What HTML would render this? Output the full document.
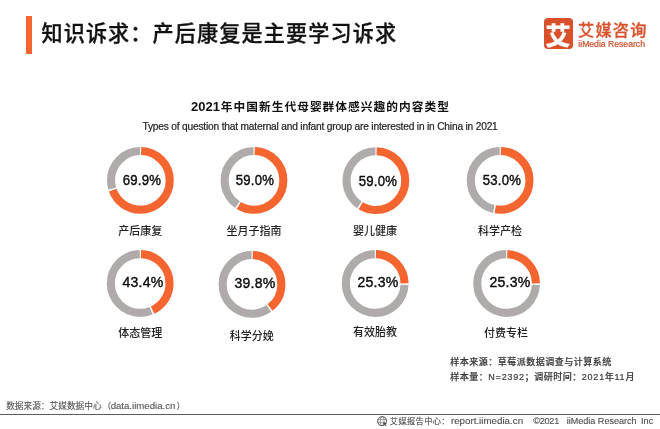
<!DOCTYPE html>
<html lang="zh-CN">
<head>
<meta charset="utf-8">
<title>知识诉求：产后康复是主要学习诉求</title>
<style>
html,body{margin:0;padding:0;background:#fff;}
body{width:660px;height:429px;position:relative;overflow:hidden;font-family:"Liberation Sans","Noto Sans CJK SC",sans-serif;color:#111;}
.bar{position:absolute;left:26px;top:16px;width:6px;height:37.5px;background:#F46530;}
.title{position:absolute;left:41.4px;top:17.8px;height:32px;line-height:32px;font-size:21.1px;letter-spacing:1.15px;font-weight:500;-webkit-text-stroke:0.3px #111;color:#111;white-space:nowrap;}
.logo-box{position:absolute;left:544px;top:18.4px;width:29.4px;height:30.4px;border-radius:4px;background:#D9502B;color:#fff;font-weight:900;font-size:25.5px;line-height:37.5px;text-align:center;text-indent:-1.6px;overflow:hidden;}
.logo-cn{position:absolute;left:578px;top:17.3px;font-size:16.2px;letter-spacing:1.2px;line-height:26px;font-weight:500;-webkit-text-stroke:0.3px #D9532E;color:#D9532E;white-space:nowrap;}
.logo-en{position:absolute;left:578.3px;top:37.5px;font-size:8.65px;line-height:12px;color:#CC4F2C;-webkit-text-stroke:0.2px #CC4F2C;white-space:nowrap;}
.h1{position:absolute;left:0;width:640px;top:98px;height:18px;line-height:18px;text-align:center;font-size:11.7px;letter-spacing:1.05px;text-indent:1px;font-weight:700;color:#111;white-space:nowrap;}
.yr{font-size:13px;letter-spacing:0;margin-right:0.8px;}
.h2{position:absolute;left:0;width:640px;top:118.8px;-webkit-text-stroke:0.2px #222;height:16px;line-height:16px;text-align:center;font-size:10.2px;letter-spacing:-0.19px;color:#222;white-space:nowrap;}
.chart{position:absolute;left:0;top:0;}
.pct{position:absolute;width:80px;height:20px;line-height:20px;text-align:center;font-size:14.3px;color:#0a0a0a;letter-spacing:0.25px;-webkit-text-stroke:0.4px #0a0a0a;transform:scaleX(0.92);white-space:nowrap;}
.p2{font-size:15.3px;letter-spacing:0.25px;margin-top:-1.2px;}
.lab{position:absolute;width:80px;height:16px;line-height:16px;text-align:center;font-size:11px;font-weight:500;color:#222;white-space:nowrap;}
.note{position:absolute;left:450.3px;font-size:9px;line-height:12px;letter-spacing:0.5px;color:#3a3a3a;-webkit-text-stroke:0.2px #3a3a3a;font-weight:500;white-space:nowrap;}
.lt{font-size:9px;letter-spacing:0.78px;}
.src{position:absolute;left:6.2px;top:398.8px;font-size:8.68px;line-height:14px;color:#555;-webkit-text-stroke:0.12px #555;white-space:nowrap;}
.pl{margin-left:1px;}
.sl{font-size:9.62px;margin-left:-0.6px;margin-right:1.2px;}
.hr{position:absolute;left:0;top:414px;width:660px;height:1px;background:#5c5c5c;}
.foot{position:absolute;left:389.8px;top:414.2px;font-size:8.6px;line-height:14px;color:#4d4d4d;-webkit-text-stroke:0.12px #4d4d4d;white-space:nowrap;}
.foot span{display:inline-block;vertical-align:baseline;white-space:nowrap;}
.fc{width:61.1px;font-size:8.2px;letter-spacing:0.4px;}
.f1{width:80.01px;font-size:9.78px;}
.f2{width:31.01px;font-size:9.2px;letter-spacing:-0.3px;}
.f3{width:71.91px;font-size:9.06px;}
.f4{font-size:9.2px;}
.globe{position:absolute;left:376.9px;top:415.6px;}
</style>
</head>
<body>
<div class="bar"></div>
<div class="title">知识诉求：产后康复是主要学习诉求</div>
<div class="logo-box">艾</div>
<div class="logo-cn">艾媒咨询</div>
<div class="logo-en">iiMedia Research</div>
<div class="h1"><span class="yr">2021</span>年中国新生代母婴群体感兴趣的内容类型</div>
<div class="h2">Types of question that maternal and infant group are interested in in China in 2021</div>
<svg class="chart" width="660" height="429" viewBox="0 0 660 429">
<g transform="translate(140.4 180.4) rotate(-90)">
<circle r="29.35" fill="none" stroke="#F46530" stroke-width="8.1" stroke-dasharray="127.40 57.01" stroke-dashoffset="-0.75"/>
<circle r="29.35" fill="none" stroke="#AFABAB" stroke-width="8.1" stroke-dasharray="54.01 130.40" stroke-dashoffset="-129.65"/>
</g>
<g transform="translate(254.0 180.4) rotate(-90)">
<circle r="29.35" fill="none" stroke="#F46530" stroke-width="8.1" stroke-dasharray="107.30 77.11" stroke-dashoffset="-0.75"/>
<circle r="29.35" fill="none" stroke="#AFABAB" stroke-width="8.1" stroke-dasharray="74.11 110.30" stroke-dashoffset="-109.55"/>
</g>
<g transform="translate(375.9 180.6) rotate(-90)">
<circle r="29.35" fill="none" stroke="#F46530" stroke-width="8.1" stroke-dasharray="107.30 77.11" stroke-dashoffset="-0.75"/>
<circle r="29.35" fill="none" stroke="#AFABAB" stroke-width="8.1" stroke-dasharray="74.11 110.30" stroke-dashoffset="-109.55"/>
</g>
<g transform="translate(500.15 180.4) rotate(-90)">
<circle r="29.35" fill="none" stroke="#F46530" stroke-width="8.1" stroke-dasharray="96.24 88.17" stroke-dashoffset="-0.75"/>
<circle r="29.35" fill="none" stroke="#AFABAB" stroke-width="8.1" stroke-dasharray="85.17 99.24" stroke-dashoffset="-98.49"/>
</g>
<g transform="translate(140.2 283.5) rotate(-90)">
<circle r="29.35" fill="none" stroke="#F46530" stroke-width="8.1" stroke-dasharray="78.53 105.88" stroke-dashoffset="-0.75"/>
<circle r="29.35" fill="none" stroke="#AFABAB" stroke-width="8.1" stroke-dasharray="102.88 81.53" stroke-dashoffset="-80.78"/>
</g>
<g transform="translate(252.0 284.4) rotate(-90)">
<circle r="29.35" fill="none" stroke="#F46530" stroke-width="8.1" stroke-dasharray="71.90 112.52" stroke-dashoffset="-0.75"/>
<circle r="29.35" fill="none" stroke="#AFABAB" stroke-width="8.1" stroke-dasharray="109.52 74.90" stroke-dashoffset="-74.15"/>
</g>
<g transform="translate(375.2 283.5) rotate(-90)">
<circle r="29.35" fill="none" stroke="#F46530" stroke-width="8.1" stroke-dasharray="45.16 139.26" stroke-dashoffset="-0.75"/>
<circle r="29.35" fill="none" stroke="#AFABAB" stroke-width="8.1" stroke-dasharray="136.26 48.16" stroke-dashoffset="-47.41"/>
</g>
<g transform="translate(506.6 283.5) rotate(-90)">
<circle r="29.35" fill="none" stroke="#F46530" stroke-width="8.1" stroke-dasharray="45.16 139.26" stroke-dashoffset="-0.75"/>
<circle r="29.35" fill="none" stroke="#AFABAB" stroke-width="8.1" stroke-dasharray="136.26 48.16" stroke-dashoffset="-47.41"/>
</g>
</svg>
<div class="pct" style="left:102.1px;top:170.4px">69.9%</div>
<div class="lab" style="left:100.2px;top:222.5px">产后康复</div>
<div class="pct" style="left:215.4px;top:170.4px">59.0%</div>
<div class="lab" style="left:213.9px;top:222.5px">坐月子指南</div>
<div class="pct" style="left:337.6px;top:170.6px">59.0%</div>
<div class="lab" style="left:335.0px;top:222.5px">婴儿健康</div>
<div class="pct" style="left:461.8px;top:170.4px">53.0%</div>
<div class="lab" style="left:460.0px;top:222.5px">科学产检</div>
<div class="pct p2" style="left:103.0px;top:273.5px">43.4%</div>
<div class="lab" style="left:100.2px;top:324.7px">体态管理</div>
<div class="pct p2" style="left:214.8px;top:274.4px">39.8%</div>
<div class="lab" style="left:211.8px;top:327.5px">科学分娩</div>
<div class="pct p2" style="left:338.3px;top:273.5px">25.3%</div>
<div class="lab" style="left:335.0px;top:324.0px">有效胎教</div>
<div class="pct p2" style="left:469.5px;top:273.5px">25.3%</div>
<div class="lab" style="left:465.9px;top:324.7px">付费专栏</div>
<div class="note" style="top:355.6px">样本来源：草莓派数据调查与计算系统</div>
<div class="note" style="top:371.2px">样本量：<span class="lt">N=2392</span>；调研时间：<span class="lt">2021</span>年<span class="lt">11</span>月</div>
<div class="src">数据来源：艾媒数据中心<span class="pl">（</span><span class="sl">data.iimedia.cn</span>）</div>
<div class="hr"></div>
<svg class="globe" width="10.4" height="10.4" viewBox="0 0 10 10"><g fill="none" stroke="#555"><circle cx="5" cy="5" r="4.35" stroke-width="1"/><ellipse cx="5" cy="5" rx="1.9" ry="4.3" stroke-width="0.55"/><path d="M1 3.5h8M1 6.5h8" stroke-width="0.55"/></g><path d="M5.4 4.9L10.3 7L10.3 10.3L7 10.3Z" fill="#fff"/><path d="M5.9 5.3l3.7 2-1.45.5 1 1.5-.85.55-1-1.5-1.05 1.05z" fill="#444"/></svg>
<div class="foot"><span class="fc">艾媒报告中心：</span><span class="f1">report.iimedia.cn</span> <span class="f2">©2021</span> <span class="f3">iiMedia Research</span> <span class="f4">Inc</span></div>
</body>
</html>
